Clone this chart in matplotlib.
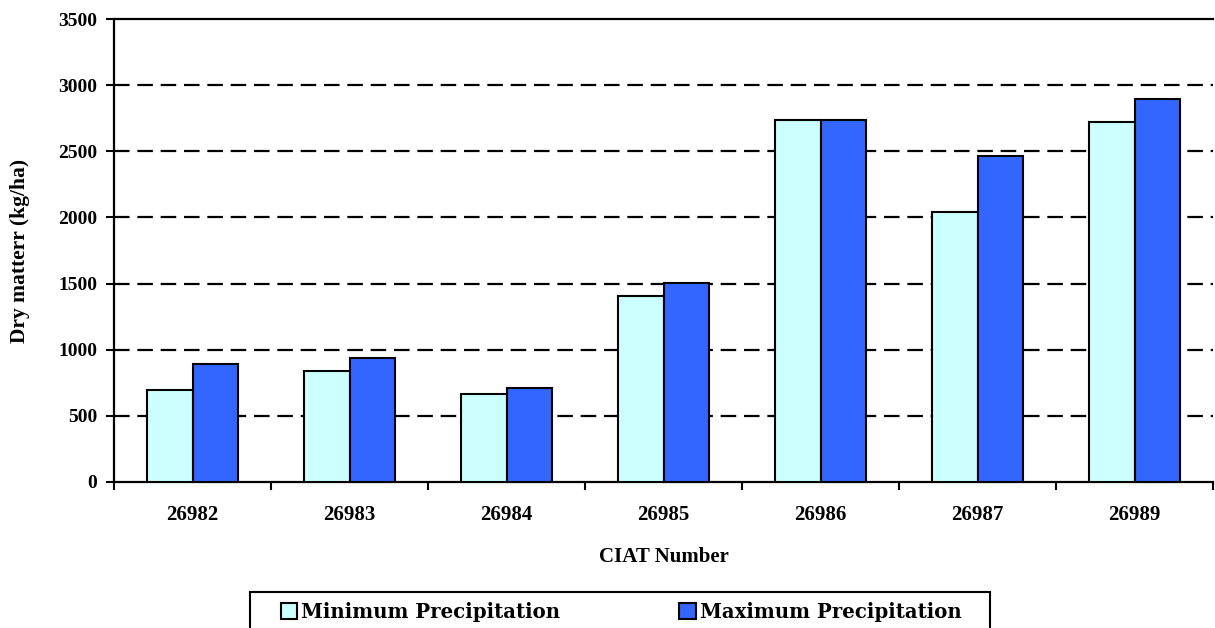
import matplotlib.pyplot as plt
from matplotlib.patches import Rectangle
import numpy as np

# данные с графика
ciat = ['26982', '26983', '26984', '26985', '26986', '26987', '26989']
min_precip = [693, 839, 665, 1406, 2736, 2041, 2721]
max_precip = [894, 940, 708, 1506, 2736, 2464, 2895]
y_ticks = [0, 500, 1000, 1500, 2000, 2500, 3000, 3500]

serif = 'Liberation Serif'
W, H = 1215, 628

fig = plt.figure(figsize=(W / 100, H / 100), dpi=100)
ax = fig.add_axes([114 / W, 1 - 482 / H, 1099 / W, 463 / H])

x = np.arange(len(ciat))
w = 0.29
ax.bar(x - w / 2, min_precip, w, color='#CCFFFF', edgecolor='black',
       linewidth=1.5, label='Minimum Precipitation', zorder=3)
ax.bar(x + w / 2, max_precip, w, color='#3366FF', edgecolor='black',
       linewidth=1.5, label='Maximum Precipitation', zorder=3)

ax.set_xlim(-0.5, len(ciat) - 0.5)
ax.set_ylim(0, 3500)
ax.set_yticks(y_ticks)
ax.set_yticklabels([str(v) for v in y_ticks], fontfamily=serif,
                   fontweight='bold', fontsize=14)

# подписи по центру, засечки на границах категорий
ax.set_xticks(x)
ax.set_xticklabels(ciat, fontfamily=serif, fontweight='bold', fontsize=15)
ax.set_xticks(np.arange(len(ciat) + 1) - 0.5, minor=True)
ax.tick_params(axis='x', which='major', length=0, pad=16.5)
ax.tick_params(axis='x', which='minor', length=6, width=1.5, direction='out')
ax.tick_params(axis='y', length=6, width=1.5, direction='out', pad=6)

for v in y_ticks[1:-1]:
    ax.axhline(v, color='black', linewidth=1.6, linestyle=(0, (7, 3.5)), zorder=1)

for s in ['left', 'bottom', 'top']:
    ax.spines[s].set_linewidth(1.6)
ax.spines['right'].set_visible(False)

ax.set_xlabel('CIAT Number', fontfamily=serif, fontweight='bold',
              fontsize=15, labelpad=16)
ax.set_ylabel('Dry matterr (kg/ha)', fontfamily=serif, fontweight='bold',
              fontsize=15.5, labelpad=20)

# рамка легенды обрезана нижним краем картинки
fig.patches.append(Rectangle((250 / W, -0.05), 740 / W, 1 - 592 / H + 0.05,
                             transform=fig.transFigure, fill=False,
                             edgecolor='black', linewidth=1.5))

fig.legend(loc='upper center', bbox_to_anchor=(621 / W, 1 - 592 / H),
           ncol=2, frameon=False,
           prop={'family': 'DejaVu Serif', 'weight': 'bold', 'size': 14.2},
           handlelength=0.85, handleheight=0.85, handletextpad=0.2,
           columnspacing=6.0, borderpad=0.5, borderaxespad=0)

fig.savefig('out.png', dpi=100)
